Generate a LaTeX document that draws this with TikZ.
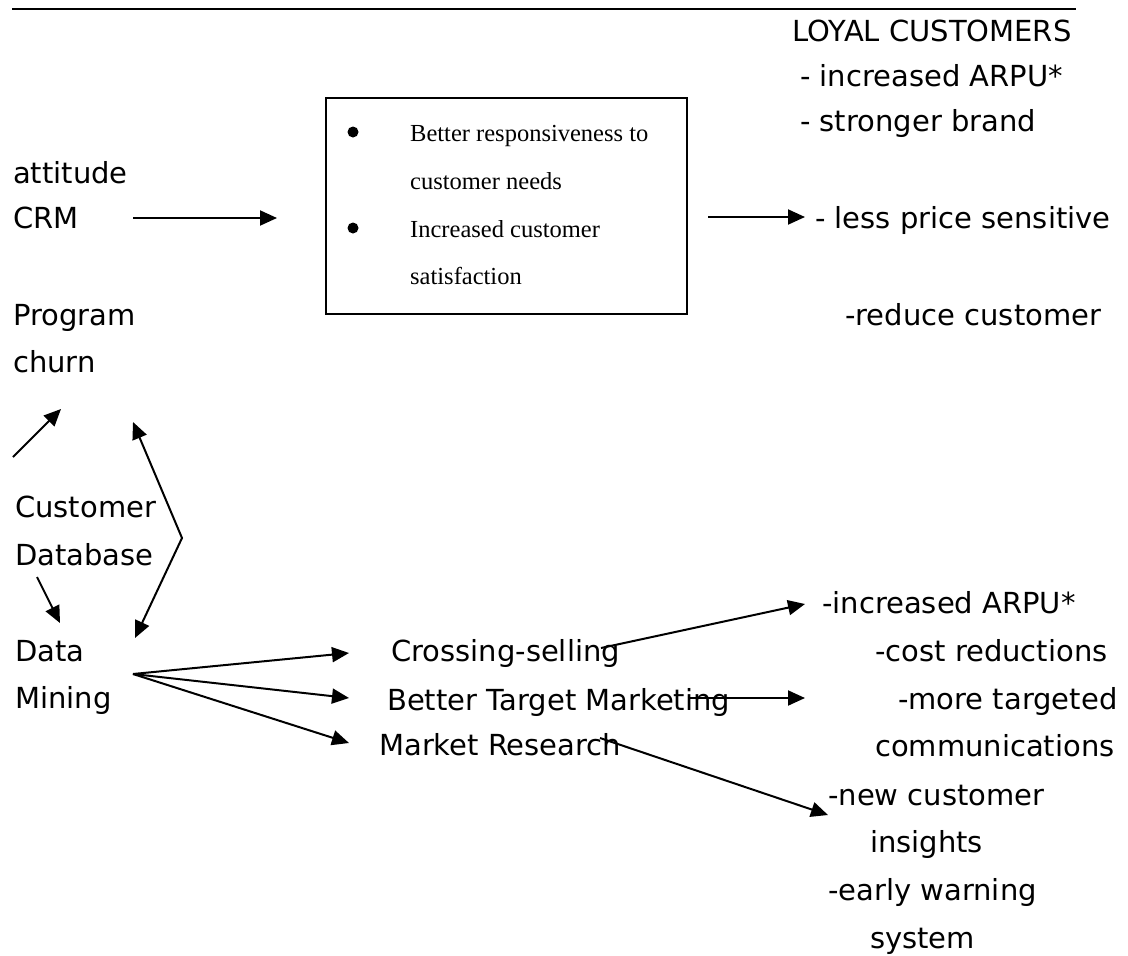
\documentclass[tikz,border=0pt]{standalone}
\usepackage{fontspec}
\setmainfont{DejaVu Sans}
\newfontfamily\boxfont{Liberation Serif}
\usetikzlibrary{arrows.meta}

\begin{document}
\begin{tikzpicture}[x=1pt, y=-1pt,
    txt/.style={anchor=base west, inner sep=0pt, font=\fontsize{29}{35}\selectfont},
    boxtxt/.style={anchor=base west, inner sep=0pt, font=\boxfont\fontsize{24.5}{29}\selectfont},
    link/.style={-{Triangle[length=17pt, width=15pt]}, line width=2pt},
    twoway/.style={{Triangle[length=17pt, width=15pt]}-{Triangle[length=17pt, width=15pt]}, line width=2pt}]

    \useasboundingbox (0,0) rectangle (1128,956);

    % Define coordinates for the arrow ends
    \coordinate (RuleLeft) at (12, 9);
    \coordinate (RuleRight) at (1076, 9);
    \coordinate (CrmStart) at (133, 218);
    \coordinate (CrmEnd) at (277, 218);
    \coordinate (BoxOut) at (708, 217);
    \coordinate (BoxOutEnd) at (805, 217);
    \coordinate (ChurnStart) at (13, 457);
    \coordinate (ChurnEnd) at (61, 409);
    \coordinate (LoopTop) at (133, 422);
    \coordinate (LoopMid) at (182, 538);
    \coordinate (LoopBot) at (135, 638);
    \coordinate (DbStart) at (37, 577);
    \coordinate (DbEnd) at (60, 623);
    \coordinate (FanRoot) at (133, 674);
    \coordinate (CrossOut) at (601, 648);
    \coordinate (CrossEnd) at (805, 604);
    \coordinate (TargetOut) at (688, 698);
    \coordinate (TargetEnd) at (805, 698);
    \coordinate (ResearchOut) at (600, 738);
    \coordinate (ResearchEnd) at (828, 815);

    % Rule across the top
    \draw[line width=2.6pt] (RuleLeft) -- (RuleRight);

    % Left column
    \foreach \y/\name/\word in {183/attitude/attitude, 228/crm/CRM, 325/program/Program, 372/churn/churn} {
        \node[txt] (\name) at (13, \y) {\word};
    }
    \foreach \y/\name/\word in {517/customer/Customer, 565/database/Database, 661/data/Data, 708/mining/Mining} {
        \node[txt] (\name) at (15, \y) {\word};
    }

    % Benefit box
    \node[draw, line width=2.2pt, anchor=north west, inner sep=0pt,
          minimum width=361pt, minimum height=216pt] (benefits) at (325, 97) {};
    \foreach \y in {132, 228} {
        \fill (353, \y) circle (5.5);
    }
    \node[boxtxt] (resp) at (410, 141) {Better responsiveness to};
    \node[boxtxt] (needs) at (410, 189) {customer needs};
    \node[boxtxt] (incr) at (410, 237) {Increased customer};
    \node[boxtxt] (satis) at (410, 284) {satisfaction};

    % Data mining outputs
    \node[txt] (cross) at (391, 661) {Crossing-selling};
    \node[txt] (target) at (387, 710) {Better Target Marketing};
    \node[txt] (research) at (379, 755) {Market Research};

    % Right column
    \foreach \x/\y/\word [count=\i] in {792/41/LOYAL CUSTOMERS, 800/86/- increased ARPU*,
            800/131/- stronger brand, 815/228/- less price sensitive, 845/325/-reduce customer,
            822/613/-increased ARPU*, 875/661/-cost reductions, 898/709/-more targeted,
            875/756/communications, 828/805/-new customer, 870/852/insights,
            828/900/-early warning, 870/948/system} {
        \node[txt] (r\i) at (\x, \y) {\word};
    }

    % Arrows
    \draw[link] (CrmStart) -- (CrmEnd);
    \draw[link] (BoxOut) -- (BoxOutEnd);
    \draw[link] (ChurnStart) -- (ChurnEnd);
    \draw[twoway] (LoopTop) -- (LoopMid) -- (LoopBot);
    \draw[link] (DbStart) -- (DbEnd);
    \foreach \y in {653, 698, 743} {
        \draw[link] (FanRoot) -- (349, \y);
    }
    \draw[link] (CrossOut) -- (CrossEnd);
    \draw[link] (TargetOut) -- (TargetEnd);
    \draw[link] (ResearchOut) -- (ResearchEnd);

\end{tikzpicture}
\end{document}
